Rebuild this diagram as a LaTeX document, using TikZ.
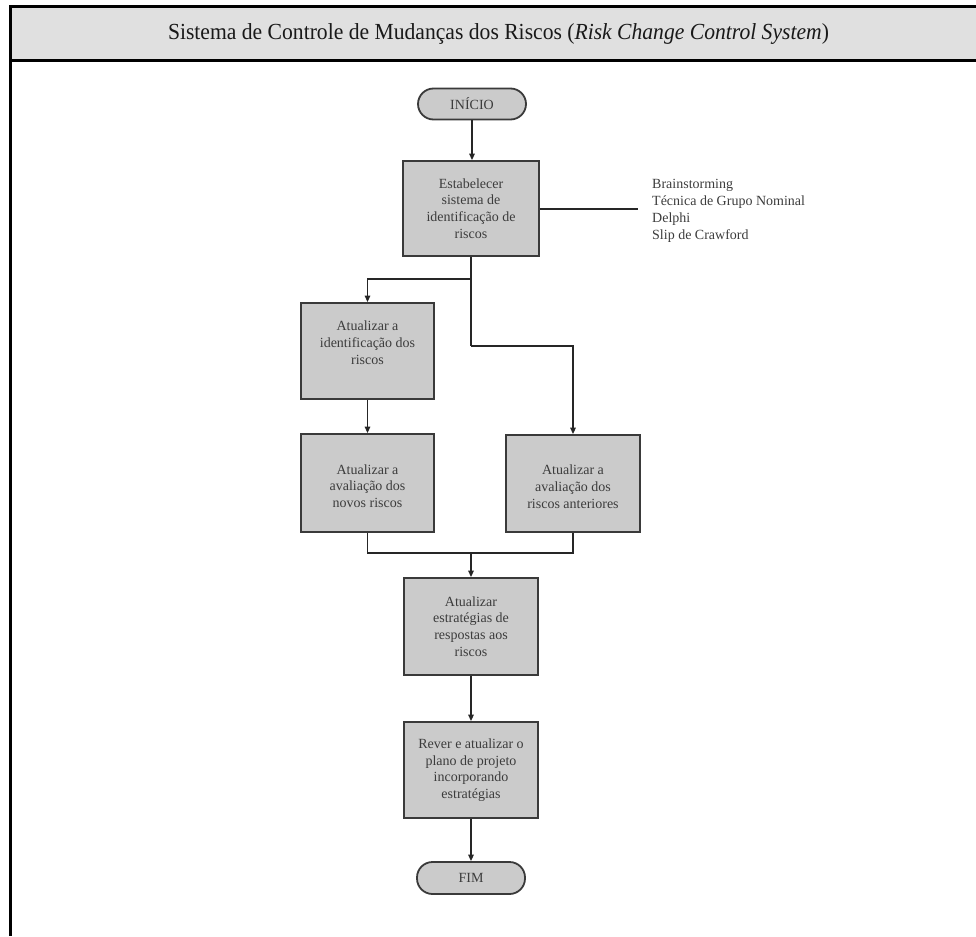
\documentclass[tikz,border=0pt]{standalone}
\usepackage{fontspec}
\setmainfont{Liberation Serif}
\usetikzlibrary{arrows.meta,calc}
\definecolor{boxfill}{HTML}{CBCBCB}
\definecolor{boxline}{HTML}{3A3A3A}
\definecolor{headfill}{HTML}{E0E0E0}
\definecolor{txt}{HTML}{3C3C3C}
\tikzset{
  procbox/.style={draw=boxline, line width=1.8pt, fill=boxfill, align=center, text=txt,
    font=\fontsize{14}{16.7}\selectfont, inner sep=0pt},
  termbox/.style={draw=boxline, line width=1.8pt, fill=boxfill, rounded corners=15.5pt, align=center,
    text=txt, font=\fontsize{14}{16.7}\selectfont, inner sep=0pt},
  conn/.style={draw=black!85, line width=1.5pt},
  arr/.style={conn, -{Triangle[length=6.5pt,width=5.5pt]}},
}
\begin{document}
\begin{tikzpicture}[x=1pt,y=1pt]
\useasboundingbox (0,0) rectangle (976,-936);
% frame
\fill[headfill] (10,-7) rectangle (978,-61);
\draw[black, line width=3pt] (978,-7) -- (10,-7) -- (10,-936);
\draw[black, line width=3pt] (10,-61) -- (978,-61);
\node[font=\fontsize{23}{26}\selectfont, text=black!90] (title) at (498.5,-34)
  {\scalebox{0.94}[1]{Sistema de Controle de Mudanças dos Riscos (\textit{Risk Change Control System})}};
% nodes
\node[termbox, minimum width=108pt, minimum height=31pt] (inicio) at (472,-104) {INÍCIO};
\node[procbox, minimum width=136pt, minimum height=95pt] (b1) at (471,-208.5)
  {Estabelecer\\sistema de\\identificação de\\riscos};
\node[procbox, minimum width=133pt, minimum height=96pt] (b2) at (367.5,-351)
  {Atualizar a\\identificação dos\\riscos\\\phantom{x}};
\node[procbox, minimum width=133pt, minimum height=98pt] (b4) at (367.5,-483)
  {\rule{0pt}{16pt}Atualizar a\\avaliação dos\\novos riscos};
\node[procbox, minimum width=134pt, minimum height=97pt] (b3) at (573,-483.5)
  {\rule{0pt}{16pt}Atualizar a\\avaliação dos\\riscos anteriores};
\node[procbox, minimum width=134pt, minimum height=97pt] (b5) at (471,-626.5)
  {Atualizar\\estratégias de\\respostas aos\\riscos};
\node[procbox, minimum width=134pt, minimum height=96pt] (b6) at (471,-770)
  {Rever e atualizar o\\plano de projeto\\incorporando\\estratégias};
\node[termbox, minimum width=108pt, minimum height=32pt] (fim) at (471,-878) {FIM};
\node[align=left, anchor=west, text=txt, font=\fontsize{14}{17}\selectfont, inner sep=0pt] (list) at (652,-211)
  {Brainstorming\\Técnica de Grupo Nominal\\Delphi\\Slip de Crawford};
% coordinates
\coordinate (l1) at (638,-209);
\coordinate (s1) at (471,-279);
\coordinate (s2) at (471,-346);
\coordinate (m) at (471,-553);
% connectors
\draw[arr] (inicio.south) -- (inicio.south |- b1.north);
\draw[conn] (b1.east |- l1) -- (l1);
\draw[conn] (b1.south) -- (s1) -- (s2);
\draw[arr] (s1) -| (b2.north);
\draw[arr] (s2) -| (b3.north);
\draw[arr] (b2.south) -- (b4.north);
\draw[conn] (b4.south) |- (m);
\draw[conn] (b3.south) |- (m);
\draw[arr] (m) -- (b5.north);
\draw[arr] (b5.south) -- (b6.north);
\draw[arr] (b6.south) -- (fim.north);
\end{tikzpicture}
\end{document}
